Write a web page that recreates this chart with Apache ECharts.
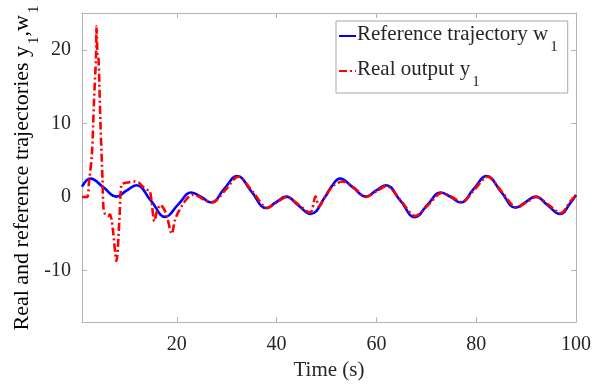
<!DOCTYPE html>
<html><head><meta charset="utf-8">
<script src="https://cdn.jsdelivr.net/npm/echarts@6/dist/echarts.min.js"></script>
<style>html,body{margin:0;padding:0;background:#fff}#c{width:604px;height:386px}</style>
</head><body><div id="c"></div>
<script>
// Reference trajectory w1 (time, value)
var refT = [1.0,2.7,5.3,7.9,9.9,11.9,14.8,17.7,20.3,22.9,24.9,26.9,29.5,32.1,35.0,37.9,39.9,41.9,44.3,46.8,49.8,
            51.0,52.7,55.3,57.9,59.9,61.9,64.8,67.7,70.3,72.9,74.9,76.9,79.5,82.1,85.0,87.9,89.9,91.9,94.3,96.8,99.0,100.0];
var refV = [1.4,2.5,1.3,0.05,0.85,1.6,-0.5,-2.7,-1.0,0.6,0.0,-0.75,1.1,2.85,0.7,-1.5,-0.7,0.05,-1.1,-2.3,0.1,
            1.4,2.5,1.3,0.05,0.85,1.6,-0.5,-2.75,-1.0,0.6,0.0,-0.75,1.1,2.85,0.7,-1.45,-0.7,0.05,-1.1,-2.3,-0.7,0.3];
// Real output y1 (time, value)
var outT = [1.0,2.0,2.4,3.0,3.4,3.8,3.9,4.1,4.3,4.7,5.1,5.3,5.6,6.2,6.6,6.9,7.2,7.9,8.5,8.9,9.5,10.5,11.5,12.4,13.2,14.0,14.6,15.0,15.5,16.0,16.7,17.4,18.0,19.0,19.6,20.2,21.5,22.5,23.3,24.3,25.9,
            27.2,29.8,32.3,35.3,38.1,40.1,42.1,44.5,46.7,47.1,47.8,48.5,49.2,50.2,51.5,53.2,55.6,57.9,60.1,62.0,64.9,67.8,70.5,73.1,75.1,77.1,79.7,82.3,85.2,88.1,90.1,92.1,94.5,96.9,99.0,100.0];
var outV = [0,0,2.0,6.0,13,19,23.2,19.5,19,10,2.5,-1.5,-2.3,-2.6,-2.4,-3.0,-4.5,-8.7,-3.0,1.7,1.9,2.0,2.1,1.95,1.4,1.0,0.8,-1.0,-3.3,-2.0,-1.1,-1.6,-2.6,-5.0,-3.2,-2.2,-0.7,0.1,0.3,0.1,-0.55,
            -0.7,1.0,2.75,0.65,-1.5,-0.7,0.0,-1.1,-2.1,-1.8,0.1,-1.3,-0.6,0.6,1.6,2.1,1.2,0.0,0.8,1.5,-0.5,-2.6,-1.0,0.55,0.0,-0.7,1.05,2.75,0.65,-1.45,-0.7,0.0,-1.05,-2.2,-0.5,0.2];
var xTicks = [20,40,60,80,100];
var yTicks = [-10,0,10,20];
var seriesNames = ['Reference trajectory w1','Real output y1'];

var FONT = 'Liberation Serif';
var TXT = '#262626';
var AX = '#b4b4b4';
function zip(a,b){var r=[];for(var i=0;i<a.length;i++)r.push([a[i],b[i]]);return r;}
var rich = {
  n:{fontFamily:FONT,fontSize:21,color:TXT,verticalAlign:'top',lineHeight:24},
  s:{fontFamily:FONT,fontSize:15,color:TXT,verticalAlign:'top',lineHeight:15,padding:[16,0,0,2]}
};
var richY = {
  n:{fontFamily:FONT,fontSize:22,color:TXT,verticalAlign:'top',lineHeight:24},
  s:{fontFamily:FONT,fontSize:15,color:TXT,verticalAlign:'top',lineHeight:15,padding:[16,0,0,2]}
};
function sub(name){ return '{n|'+name.slice(0,-1)+'}{s|'+name.slice(-1)+'}'; }
function xAx(pos,show){return {type:'value',position:pos,min:1,max:100,
  axisLine:{show:true,onZero:false,lineStyle:{color:AX,width:1}},
  axisTick:{show:true,inside:true,length:5,customValues:xTicks,lineStyle:{color:AX}},
  axisLabel:{show:show,customValues:xTicks,fontFamily:FONT,fontSize:20,color:TXT,margin:13},
  splitLine:{show:false}};}
function yAx(pos,show){return {type:'value',position:pos,min:-17,max:25,
  axisLine:{show:true,onZero:false,lineStyle:{color:AX,width:1}},
  axisTick:{show:true,inside:true,length:5,customValues:yTicks,lineStyle:{color:AX}},
  axisLabel:{show:show,customValues:yTicks,fontFamily:FONT,fontSize:20,color:TXT,margin:11},
  splitLine:{show:false}};}
var xa0 = xAx('bottom',true);
xa0.name='Time (s)'; xa0.nameLocation='middle'; xa0.nameGap=34;
xa0.nameTextStyle={fontFamily:FONT,fontSize:21,color:TXT};
var chart = echarts.init(document.getElementById('c'),null,{renderer:'canvas'});
chart.setOption({
  animation:false,
  backgroundColor:'#fff',
  grid:{left:82,right:28,top:13,bottom:62,containLabel:false},
  xAxis:[xa0,xAx('top',false)],
  yAxis:[yAx('left',true),yAx('right',false)],
  legend:{orient:'vertical',left:336,top:21,data:seriesNames,
    backgroundColor:'#fff',borderColor:'#a8a8a8',borderWidth:1,borderRadius:0,
    padding:[3,10,3,2],itemGap:4,itemWidth:17,itemHeight:12,
    itemStyle:{opacity:0},
    formatter:function(n){return sub(n);},
    textStyle:{rich:rich,padding:[0,0,0,-4]}},
  graphic:[{type:'text',x:23,y:168,rotation:Math.PI/2,
    style:{text:'{n|Real and reference trajectories y}{s|1}{n|,w}{s|1}',rich:richY,align:'center',verticalAlign:'middle'}}],
  series:[
    {name:seriesNames[0],type:'line',data:zip(refT,refV),showSymbol:false,symbol:'none',smooth:0.45,
     lineStyle:{color:'#0000ff',width:2.6},itemStyle:{color:'#0000ff'},z:2},
    {name:seriesNames[1],type:'line',data:zip(outT,outV),showSymbol:false,symbol:'none',smooth:0.3,
     lineStyle:{color:'#ff0000',width:2.6,type:[8,3,2,3]},itemStyle:{color:'#ff0000'},z:3}
  ]
});
</script></body></html>
